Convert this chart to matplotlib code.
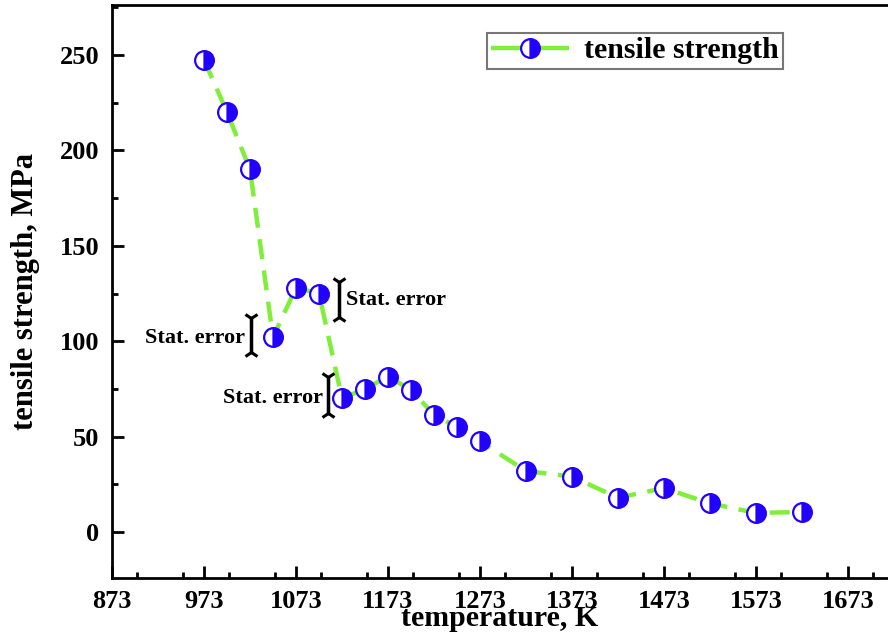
import matplotlib
matplotlib.use("Agg")
import matplotlib.pyplot as plt
from matplotlib.ticker import MultipleLocator, FixedLocator

plt.rcParams['font.family'] = ['Liberation Serif', 'DejaVu Serif']
plt.rcParams['font.weight'] = 'bold'

temperature = [973, 998, 1023, 1048, 1073, 1098, 1123, 1148, 1173, 1198, 1223, 1248, 1273,
               1323, 1373, 1423, 1473, 1523, 1573, 1623]
strength = [247.5, 220, 190, 102, 128, 125, 70, 75, 81.5, 74.5, 61.5, 55, 47.5,
            32, 29, 18, 23, 15, 10, 10.5]

x_ticks = [873, 973, 1073, 1173, 1273, 1373, 1473, 1573, 1673]
y_ticks = [0, 50, 100, 150, 200, 250]

# Stat. error annotations: (x, y_low, y_high, side)
err_x = [1024, 1120, 1108]
err_lo = [94.5, 112.5, 62.5]
err_hi = [112, 131, 81]
err_side = ['left', 'right', 'left']

fig = plt.figure(figsize=(8.88, 6.35), dpi=100)
ax = fig.add_axes([112/888, 1-578/635, (888-112)/888, (578-5)/635])

green = '#80ef3a'
blue = '#2200ff'

ax.plot(temperature, strength, color=green, lw=3.2, dashes=(4.5, 2.6),
        marker='o', markersize=13.5, fillstyle='right',
        markerfacecolor=blue, markerfacecoloralt='white',
        markeredgecolor=blue, markeredgewidth=1.6,
        label='tensile strength', zorder=3)

for x, lo, hi, side in zip(err_x, err_lo, err_hi, err_side):
    ax.plot([x, x], [lo, hi], color='black', lw=2.5, zorder=4, solid_capstyle='butt')
    ax.plot([x], [hi], marker='1', color='black', markersize=11, mew=2.2, zorder=4)
    ax.plot([x], [lo], marker='2', color='black', markersize=11, mew=2.2, zorder=4)
    ymid = (lo + hi) / 2
    if side == 'left':
        ax.text(x - 6, ymid - 1.5, 'Stat. error', ha='right', va='center',
                fontsize=16, fontweight='bold')
    else:
        ax.text(x + 7, ymid, 'Stat. error', ha='left', va='center',
                fontsize=16, fontweight='bold')

ax.set_xlim(873, 1716.5)
ax.set_ylim(-24.1, 276.2)
ax.xaxis.set_major_locator(FixedLocator(x_ticks))
ax.xaxis.set_minor_locator(MultipleLocator(50))
ax.set_xticklabels([str(t) for t in x_ticks])
ax.yaxis.set_major_locator(FixedLocator(y_ticks))
ax.yaxis.set_minor_locator(MultipleLocator(25))

ax.tick_params(axis='both', which='major', direction='in', length=8.5, width=2,
               labelsize=19)
ax.tick_params(axis='both', which='minor', direction='in', length=4.5, width=2)
ax.tick_params(axis='y', which='major', pad=9)
ax.tick_params(axis='x', which='major', pad=9)
ax.tick_params(axis='x', which='both', top=False)
ax.tick_params(axis='y', which='both', right=False)

for s in ['left', 'bottom', 'top']:
    ax.spines[s].set_linewidth(2)
ax.spines['right'].set_visible(False)

ax.set_xlabel('temperature, K', fontsize=21.5, fontweight='bold', labelpad=-6)
ax.set_ylabel('tensile strength, MPa', fontsize=22, fontweight='bold', labelpad=14)

leg = ax.legend(loc='upper left', bbox_to_anchor=((487-112)/776, 1-(33-5)/573),
                fontsize=21.5, frameon=True, fancybox=False, handlelength=2.6,
                borderpad=0.15, handletextpad=0.5, borderaxespad=0)
leg.get_frame().set_edgecolor('#555555')
leg.get_frame().set_linewidth(1.5)
leg.legend_handles[0].set_dashes((1, 0))

fig.savefig('out.png', dpi=100)
